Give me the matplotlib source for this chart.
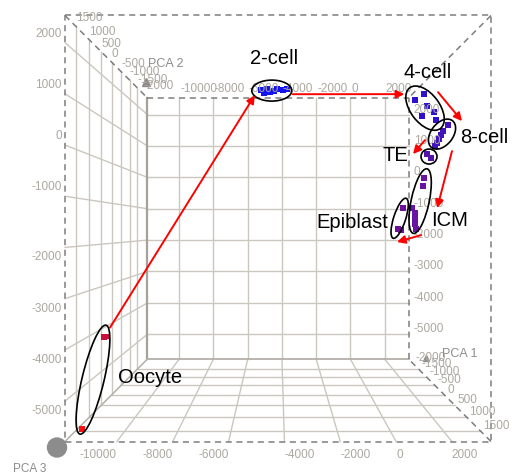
import numpy as np
import matplotlib
matplotlib.use("Agg")
import matplotlib.pyplot as plt
from matplotlib.patches import Ellipse, Circle
from mpl_toolkits.mplot3d import proj3d

# ============================================================================
# DATOS (PCA 1, PCA 2, PCA 3 de cada muestra)
# ============================================================================

PC1_LIM = (-11860, 3400)
PC2_LIM = (1850, -2280)          # frente -> fondo
PC3_LIM = (-5790, 2530)

PC1_TICKS = [-10000, -8000, -6000, -4000, -2000, 0, 2000]
PC2_TICKS = [-2000, -1500, -1000, -500, 0, 500, 1000, 1500]
PC2_GRID = [-1500, -1000, -500, 0, 500, 1000, 1500]
PC3_TICKS = [-5000, -4000, -3000, -2000, -1000, 0, 1000, 2000]

oocyte_pc1 = [-10800, -10720, -11630]
oocyte_pc2 = [1500, 1500, 1500]
oocyte_pc3 = [-3860, -3850, -5750]

cell2_pc1 = [-5108, -4953, -4799, -4645, -4439, -4284, -3976, -3770]
cell2_pc2 = [-1000] * 8
cell2_pc3 = [2247, 2163, 2275, 2191, 2219, 2275, 2247, 2275]

cell4_pc1 = [2480, 2066, 2618, 2939, 2388, 3031]
cell4_pc2 = [0] * 6
cell4_pc3 = [1735, 1585, 1435, 1285, 1185, 1085]

cell8_pc1 = [3117, 2901, 2814, 2728, 2641, 2555]
cell8_pc2 = [500] * 6
cell8_pc3 = [806, 665, 570, 476, 382, 312]

te_pc1 = [2618, 2801]
te_pc2 = [0, 0]
te_pc3 = [235, 135]

icm_pc1 = [2480, 2434, 1928, 2066, 2066, 2066, 2112]
icm_pc2 = [0] * 7
icm_pc3 = [-365, -565, -1115, -1240, -1390, -1515, -1641]

epi_pc1 = [1514, 1284, 1422]
epi_pc2 = [0, 0, 0]
epi_pc3 = [-1115, -1641, -1666]

STAGES = {
    "Oocyte":   (oocyte_pc1, oocyte_pc2, oocyte_pc3, ["#c8103a", "#c8103a", "#ff1010"]),
    "2-cell":   (cell2_pc1, cell2_pc2, cell2_pc3, "#1414f0"),
    "4-cell":   (cell4_pc1, cell4_pc2, cell4_pc3, "#3010cc"),
    "8-cell":   (cell8_pc1, cell8_pc2, cell8_pc3, "#4212bc"),
    "TE":       (te_pc1, te_pc2, te_pc3, "#5412ac"),
    "ICM":      (icm_pc1, icm_pc2, icm_pc3, "#6a14a4"),
    "Epiblast": (epi_pc1, epi_pc2, epi_pc3, "#6e1098"),
}

# anotaciones (pixeles relativos al centro proyectado de cada grupo, y hacia abajo)
ELIPSES = {
    "Oocyte":   (-4.3, 12.3, 112, 22, -76.5),
    "2-cell":   (-1, 0, 40, 21, 0),
    "4-cell":   (-1.3, 0, 51, 29, 53),
    "8-cell":   (1.5, -2.5, 34, 22, -52),
    "TE":       (0, 0.5, 16, 15, 0),
    "ICM":      (3, -7, 66, 18, -78),
    "Epiblast": (-1, -4, 42, 12, -72),
}
ETIQUETAS = {
    "Oocyte": (53, 10), "2-cell": (1, -32), "4-cell": (1, -36),
    "8-cell": (43.5, 0.5), "TE": (-34, -1), "ICM": (32, 12), "Epiblast": (-48, 0),
}
FLECHAS = [
    ("Oocyte", "2-cell", (12.7, -39.7), (-18, 4.6)),
    ("2-cell", "4-cell", (20, 3.6), (-22, -14)),
    ("4-cell", "8-cell", (11.7, -16), (21.5, -15.5)),
    ("8-cell", "TE", (-15.5, 3.5), (-16, -2)),
    ("8-cell", "ICM", (11.5, 14.5), (20, 0)),
    ("ICM", "Epiblast", (4, 27), (-3.7, 19.7)),
]

# ============================================================================
# FIGURA 3D
# ============================================================================

plt.rcParams['font.family'] = ['Liberation Sans', 'DejaVu Sans']
W, H, DPI = 512, 474, 100
TARGET_W = 426                   # ancho de la cara frontal (px)
TARGET_C = (278, 228.5)          # centro de la cara frontal (px, y hacia abajo)

fig = plt.figure(figsize=(W / DPI, H / DPI), dpi=DPI)
ax = fig.add_axes([0, 0, 1, 1], projection='3d', computed_zorder=False)
ax.set_xlim(*PC1_LIM)
ax.set_ylim(*PC2_LIM)
ax.set_zlim(*PC3_LIM)
ax.set_box_aspect((1, 1, 1))
ax.view_init(elev=0, azim=-90, roll=0)
ax.set_axis_off()

x0, x1 = PC1_LIM
yf, yb = PC2_LIM
z0, z1 = PC3_LIM
xc, zc = (x0 + x1) / 2, (z0 + z1) / 2


def persp_ratio(f):
    ax.set_proj_type('persp', focal_length=f)
    px, _, _ = proj3d.proj_transform(np.array([xc, x1, x1]), np.array([yf, yf, yb]),
                                     np.array([zc, zc, zc]), ax.get_proj())
    return (px[2] - px[0]) / (px[1] - px[0])


lo, hi = 0.02, 20.0
for _ in range(60):
    mid = (lo * hi) ** 0.5
    if persp_ratio(mid) < 0.613:
        lo = mid
    else:
        hi = mid
ax.set_proj_type('persp', focal_length=(lo * hi) ** 0.5)

# rejilla
GRID_C = '#cbc7bf'
EDGE_C = '#7d7d7d'
gkw = dict(color=GRID_C, lw=1.0, zorder=1)
dkw = dict(color=EDGE_C, lw=1.1, ls=(0, (4, 3)), zorder=2)

for x in PC1_TICKS:
    ax.plot([x, x], [yb, yb], [z0, z1], **gkw)          # pared del fondo
    ax.plot([x, x], [yf, yb], [z0, z0], **gkw)          # suelo
for z in PC3_TICKS:
    ax.plot([x0, x1], [yb, yb], [z, z], **gkw)
    ax.plot([x0, x0], [yf, yb], [z, z], **gkw)          # pared izquierda
for y in PC2_GRID:
    ax.plot([x0, x1], [y, y], [z0, z0], **gkw)
    ax.plot([x0, x0], [y, y], [z0, z1], **gkw)

ax.plot([x0, x0], [yb, yb], [z0, z1], color='#a6a29a', lw=1.6, zorder=1.5)
ax.plot([x0, x1], [yb, yb], [z0, z0], color='#b4b0a8', lw=1.3, zorder=1.5)
ax.plot([x0, x0], [yf, yb], [z0, z0], color='#b4b0a8', lw=1.1, zorder=1.5)

# aristas discontinuas
ax.plot([x0, x1, x1, x0, x0], [yf] * 5, [z1, z1, z0, z0, z1], **dkw)
ax.plot([x0, x0], [yf, yb], [z1, z1], **dkw)
ax.plot([x1, x1], [yf, yb], [z1, z1], **dkw)
ax.plot([x1, x1], [yf, yb], [z0, z0], **dkw)
ax.plot([x0, x1], [yb, yb], [z1, z1], **dkw)
ax.plot([x1, x1], [yb, yb], [z0, z1], **dkw)

for name, (p1, p2, p3, col) in STAGES.items():
    ax.scatter(p1, p2, p3, marker='s', s=17, c=col, linewidths=0,
               depthshade=False, zorder=5)

# ajustar posicion para que la cara frontal coincida con la referencia
fig.canvas.draw()


def disp(x, y, z):
    px, py, _ = proj3d.proj_transform(np.atleast_1d(np.asarray(x, float)),
                                      np.atleast_1d(np.asarray(y, float)),
                                      np.atleast_1d(np.asarray(z, float)), ax.get_proj())
    return ax.transData.transform(np.column_stack([px, py]))


tl, br = disp([x0, x1], [yf, yf], [z1, z0])
bb = ax.get_window_extent()
k = TARGET_W / (br[0] - tl[0])
cfx = ((tl[0] + br[0]) / 2 - bb.x0) / bb.width
cfy = ((tl[1] + br[1]) / 2 - bb.y0) / bb.height
side = bb.width * k
left = TARGET_C[0] - cfx * side
bottom = (H - TARGET_C[1]) - cfy * side
ax.set_position([left / W, bottom / H, side / W, side / H])
fig.canvas.draw()

# ============================================================================
# CAPA 2D (pixeles, y hacia abajo): etiquetas, elipses, flechas
# ============================================================================

ov = fig.add_axes([0, 0, 1, 1])
ov.set_xlim(0, W)
ov.set_ylim(H, 0)
ov.set_axis_off()
ov.patch.set_alpha(0)


def px(x, y, z):
    return ov.transData.inverted().transform(disp(x, y, z))


TICK_C = '#aca8a0'
tkw = dict(color=TICK_C, fontsize=8.5)

for x in PC1_TICKS:
    p = px(x, yf, z0)[0]
    ov.text(p[0], p[1] + 7, f"{x}", ha='right' if x < xc else 'left', va='top', **tkw)
    q = px(x, yb, z1)[0]
    ov.text(q[0] + 1, q[1] - 3, f"{x}", ha='left', va='bottom', **tkw)
for z in PC3_TICKS:
    p = px(x0, yf, z)[0]
    above = z > zc
    ov.text(p[0] - 3, p[1] + (-3 if above else 4), f"{z}", ha='right',
            va='bottom' if above else 'top', **tkw)
    q = px(x1, yb, z)[0]
    ov.text(q[0] + 5, q[1] + 1, f"{z}", ha='left', va='bottom', **tkw)
for y in PC2_TICKS:
    p = px(x0, y, z1)[0]
    ov.text(p[0], p[1] - 2, f"{y}", ha='left', va='bottom', **tkw)
    q = px(x1, y, z0)[0]
    ov.text(q[0] + 3, q[1] + 1, f"{y}", ha='left', va='bottom', **tkw)

# nombres de los ejes
btl = px(x0, yb, z1)[0]
bbr = px(x1, yb, z0)[0]
fbl = px(x0, yf, z0)[0]
ov.text(btl[0] + 1, btl[1] - 34, "PCA 2", ha='left', va='center', color='#8c8c8c', fontsize=9)
ov.plot(btl[0] - 1, btl[1] - 16, marker='^', ms=6, color='#8c8c8c')
ov.text(bbr[0] + 33, bbr[1] - 5, "PCA 1", ha='left', va='center', color='#8c8c8c', fontsize=9)
ov.plot(bbr[0] + 17, bbr[1] - 1, marker='^', ms=5, color='#8c8c8c')
ov.text(fbl[0] - 52, fbl[1] + 27, "PCA 3", ha='left', va='center', color='#8c8c8c', fontsize=8.5)
ov.add_patch(Circle((fbl[0] - 8, fbl[1] + 6), 9.5, color='#8c8c8c', zorder=3))

# centros proyectados
centros = {}
for name, (p1, p2, p3, col) in STAGES.items():
    centros[name] = px(p1, p2, p3).mean(axis=0)

for name, (dx, dy, w, h, ang) in ELIPSES.items():
    c = centros[name]
    ov.add_patch(Ellipse((c[0] + dx, c[1] + dy), w, h, angle=ang,
                         fill=False, ec='black', lw=1.2, zorder=4))

for name, (dx, dy) in ETIQUETAS.items():
    c = centros[name]
    ov.text(c[0] + dx, c[1] + dy, name, ha='center', va='center',
            fontsize=14.5, color='black', zorder=6)

for a, b, (ax0, ay0), (bx0, by0) in FLECHAS:
    ca, cb = centros[a], centros[b]
    ov.annotate("", xy=(cb[0] + bx0, cb[1] + by0), xytext=(ca[0] + ax0, ca[1] + ay0),
                arrowprops=dict(arrowstyle='-|>', color='#ff0000', lw=1.4,
                                mutation_scale=12, shrinkA=0, shrinkB=0), zorder=5)

fig.savefig("out.png", dpi=DPI)
